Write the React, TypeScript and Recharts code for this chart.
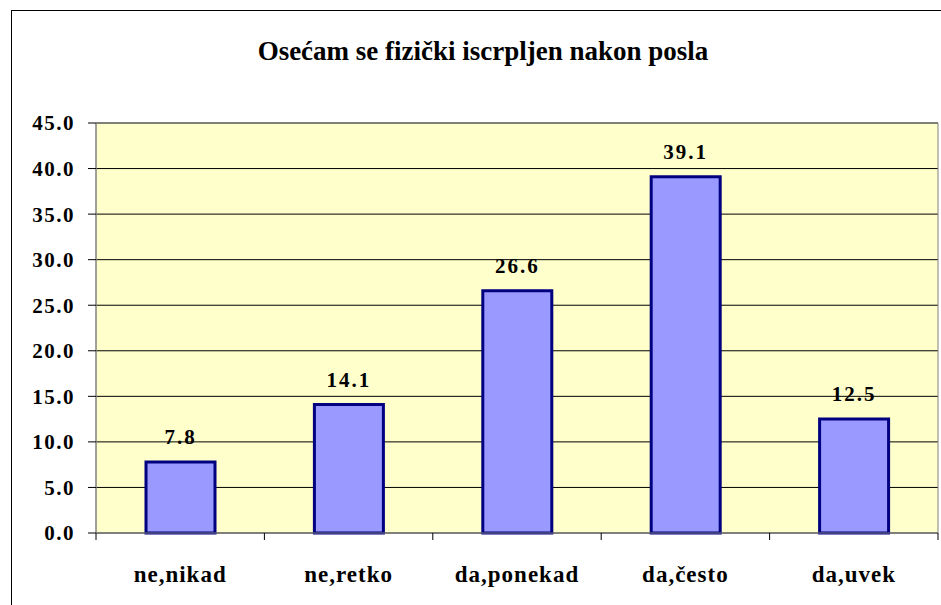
import { BarChart, Bar, XAxis, YAxis, CartesianGrid, ReferenceArea, LabelList } from 'recharts';

const categories = ['ne,nikad', 'ne,retko', 'da,ponekad', 'da,često', 'da,uvek'];
const values = [7.8, 14.1, 26.6, 39.1, 12.5];
const yTicks = [0, 5, 10, 15, 20, 25, 30, 35, 40, 45];
const title = 'Osećam se fizički iscrpljen nakon posla';

const data = categories.map((name, i) => ({ name, value: values[i] }));

const W = 941;
const H = 605;
const M = { top: 123, right: 3, bottom: 12, left: 0 };
const Y_W = 96;
const HALF_BAND = (W - M.left - Y_W - M.right) / categories.length / 2;
const FONT = 'Liberation Serif';

const CatTick = (props: any) => {
  const { x, y, payload, index } = props;
  return (
    <g>
      <line x1={x - HALF_BAND} x2={x - HALF_BAND} y1={y} y2={y + 7} stroke="#000" />
      {index === categories.length - 1 && (
        <line x1={x + HALF_BAND} x2={x + HALF_BAND} y1={y} y2={y + 7} stroke="#000" />
      )}
      <text x={x} y={y + 49} textAnchor="middle" fontFamily={FONT} fontWeight="bold" fontSize={23} letterSpacing={1} fill="#000">
        {payload.value}
      </text>
    </g>
  );
};

export default function App() {
  return (
    <div style={{ position: 'fixed', left: 0, top: 0, width: W, height: H, overflow: 'hidden', background: '#fff' }}>
      <div style={{ position: 'absolute', left: 11, top: 10, width: 960, height: 640, border: '1px solid #000' }} />
      <BarChart width={W} height={H} data={data} margin={M} barSize={69}>
        <text x={483} y={60} textAnchor="middle" fontFamily={FONT} fontWeight="bold" fontSize={27} fill="#000">
          {title}
        </text>
        <CartesianGrid vertical={false} stroke="#000" fill="#FFFFCC" fillOpacity={1} />
        <ReferenceArea y1={0} y2={45} fill="none" stroke="#808080" strokeWidth={1} ifOverflow="visible" />
        <XAxis
          dataKey="name"
          axisLine={{ stroke: '#808080' }}
          tickLine={false}
          tickSize={0}
          tickMargin={0}
          height={60}
          interval={0}
          tick={<CatTick />}
        />
        <YAxis
          width={Y_W}
          domain={[0, 45]}
          ticks={yTicks}
          interval={0}
          axisLine={{ stroke: '#808080' }}
          tickLine={{ stroke: '#000' }}
          tickSize={8}
          tickMargin={13}
          tickFormatter={(v: number) => v.toFixed(1)}
          tick={{ fill: '#000', fontFamily: FONT, fontWeight: 'bold', fontSize: 21, letterSpacing: 1.5 }}
        />
        <Bar dataKey="value" fill="#9999FF" stroke="#000080" strokeWidth={3} isAnimationActive={false}>
          <LabelList
            dataKey="value"
            position="top"
            offset={18}
            formatter={(v: number) => v.toFixed(1)}
            fill="#000"
            fontFamily={FONT}
            fontWeight="bold"
            fontSize={21}
            letterSpacing={2}
          />
        </Bar>
      </BarChart>
    </div>
  );
}
